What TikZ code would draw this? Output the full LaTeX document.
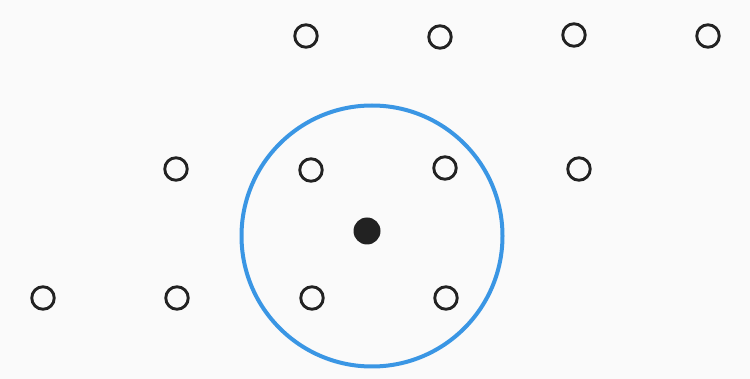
\documentclass[tikz,border=0pt]{standalone}
\definecolor{bg}{HTML}{FAFAFA}
\definecolor{ringblue}{HTML}{3A96E4}
\definecolor{ink}{HTML}{222222}
\begin{document}
\begin{tikzpicture}[x=1pt,y=-1pt,
  hollowpt/.style={circle,draw=ink,line width=2.9pt,minimum size=22.5pt,inner sep=0pt,fill=none},
  querypt/.style={circle,fill=ink,draw=none,minimum size=27pt,inner sep=0pt},
  searchring/.style={circle,draw=ringblue,line width=4pt,minimum size=261pt,inner sep=0pt}]
\fill[bg] (0,0) rectangle (750,379);
\useasboundingbox (0,0) rectangle (750,379);
\node[searchring] (r) at (372,236) {};
\node[querypt] (q) at (367,231) {};
\node[hollowpt] (a1) at (306,36) {};
\node[hollowpt] (a2) at (440,37) {};
\node[hollowpt] (a3) at (574,35) {};
\node[hollowpt] (a4) at (708,36) {};
\node[hollowpt] (b1) at (176,169) {};
\node[hollowpt] (b2) at (311,170) {};
\node[hollowpt] (b3) at (445,168) {};
\node[hollowpt] (b4) at (579,169) {};
\node[hollowpt] (c1) at (43,298) {};
\node[hollowpt] (c2) at (177,298) {};
\node[hollowpt] (c3) at (312,298) {};
\node[hollowpt] (c4) at (446,298) {};
\end{tikzpicture}
\end{document}
